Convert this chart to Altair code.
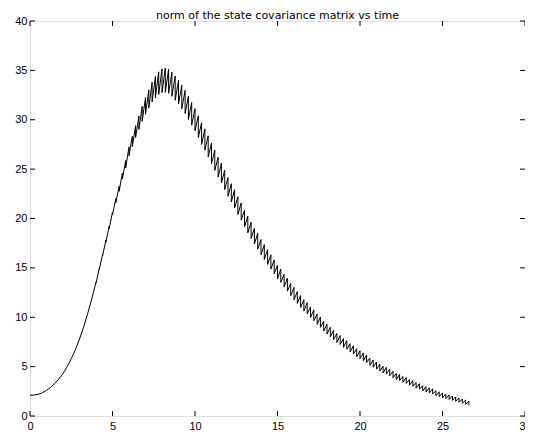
import altair as alt
import pandas as pd

title_text = "norm of the state covariance matrix vs time"
x_ticks = [0, 5, 10, 15, 20, 25, 30]
y_ticks = [0, 5, 10, 15, 20, 25, 30, 35, 40]

# smooth early part of the curve
early_t = [0, 0.25, 0.5, 0.75, 1.0, 1.25, 1.5, 1.75, 2.0, 2.25, 2.5, 2.75, 3.0, 3.25, 3.5, 3.75]
early_v = [2.1, 2.12, 2.2, 2.35, 2.6, 2.9, 3.3, 3.75, 4.3, 5.0, 5.8, 6.7, 7.8, 9.0, 10.4, 11.9]

# oscillating part: one update every 0.2 time units from t = 4.0 to 26.6
spike_start = 4.0
spike_step = 0.2
center = [
    13.5, 14.9, 16.3, 17.7, 19.1, 20.5,
    21.8, 23.0, 24.3, 25.5, 26.8,
    27.8, 28.8, 29.7, 30.6, 31.4,
    32.1, 32.8, 33.3, 33.7, 33.95,
    34.0, 33.9, 33.6, 33.2, 32.8,
    32.3, 31.8, 31.2, 30.6, 30.0,
    29.3, 28.6, 28.0, 27.3, 26.6,
    25.9, 25.2, 24.6, 23.9, 23.2,
    22.6, 22.0, 21.3, 20.7, 20.0,
    19.4, 18.8, 18.2, 17.7, 17.1,
    16.6, 16.1, 15.6, 15.1, 14.6,
    14.2, 13.7, 13.3, 12.8, 12.4,
    12.0, 11.6, 11.2, 10.9, 10.5,
    10.2, 9.8, 9.5, 9.1, 8.8,
    8.5, 8.2, 7.9, 7.7, 7.4,
    7.2, 6.9, 6.7, 6.4, 6.2,
    6.0, 5.8, 5.5, 5.3, 5.1,
    4.9, 4.7, 4.6, 4.4, 4.2,
    4.0, 3.9, 3.7, 3.6, 3.4,
    3.3, 3.1, 3.0, 2.8, 2.7,
    2.6, 2.5, 2.3, 2.2, 2.1,
    2.0, 1.9, 1.8, 1.7, 1.6,
    1.5, 1.4, 1.3,
]
swing = [
    0.1, 0.1, 0.15, 0.2, 0.25, 0.3,
    0.4, 0.5, 0.6, 0.75, 0.9,
    1.05, 1.2, 1.35, 1.5, 1.7,
    1.85, 2.0, 2.15, 2.3, 2.4,
    2.45, 2.45, 2.45, 2.45, 2.4,
    2.4, 2.35, 2.35, 2.3, 2.25,
    2.2, 2.2, 2.15, 2.15, 2.1,
    2.05, 2.0, 2.0, 1.95, 1.9,
    1.85, 1.85, 1.8, 1.75, 1.7,
    1.7, 1.65, 1.6, 1.6, 1.55,
    1.5, 1.5, 1.45, 1.4, 1.4,
    1.35, 1.3, 1.3, 1.25, 1.25,
    1.2, 1.2, 1.15, 1.15, 1.1,
    1.1, 1.05, 1.05, 1.0, 1.0,
    0.97, 0.95, 0.93, 0.91, 0.89,
    0.87, 0.85, 0.83, 0.81, 0.8,
    0.78, 0.76, 0.75, 0.73, 0.72,
    0.7, 0.69, 0.67, 0.66, 0.65,
    0.63, 0.62, 0.61, 0.6, 0.58,
    0.57, 0.56, 0.55, 0.54, 0.53,
    0.52, 0.51, 0.5, 0.49, 0.48,
    0.47, 0.46, 0.45, 0.45, 0.44,
    0.43, 0.43, 0.42,
]

rows = []
idx = 0
for t, v in zip(early_t, early_v):
    rows.append({"t": t, "v": v, "i": idx})
    idx += 1
for k, (c, s) in enumerate(zip(center, swing)):
    t = round(spike_start + spike_step * k, 4)
    rows.append({"t": t, "v": c + s / 2, "i": idx})
    idx += 1
    rows.append({"t": t, "v": c - s / 2, "i": idx})
    idx += 1
df = pd.DataFrame(rows)

W, H = 495, 395
TL = 5
font = "Liberation Sans"
xs = alt.Scale(domain=[0, 30], nice=False, zero=False)
ys = alt.Scale(domain=[0, 40], nice=False, zero=False)

line = alt.Chart(df).mark_line(color="black", strokeWidth=1).encode(
    x=alt.X("t:Q", scale=xs, title=None,
            axis=alt.Axis(values=x_ticks, ticks=False, domain=False, grid=False,
                          labelPadding=4, labelFontSize=11, labelFont=font,
                          labelColor="black", labelFlush=False, labelOverlap=False)),
    y=alt.Y("v:Q", scale=ys, title=None,
            axis=alt.Axis(values=y_ticks, ticks=False, domain=False, grid=False,
                          labelPadding=3, labelFontSize=11, labelFont=font,
                          labelColor="black", labelFlush=False, labelOverlap=False)),
    order="i:Q",
)

xdf = pd.DataFrame({"xt": x_ticks})
ydf = pd.DataFrame({"yt": y_ticks})

xb = alt.Chart(xdf).mark_rule(color="black", strokeWidth=1).encode(
    x=alt.X("xt:Q", scale=xs, title=None), y=alt.value(H), y2=alt.value(H - TL))
xt = alt.Chart(xdf).mark_rule(color="black", strokeWidth=1).encode(
    x=alt.X("xt:Q", scale=xs, title=None), y=alt.value(0), y2=alt.value(TL))
yl = alt.Chart(ydf).mark_rule(color="black", strokeWidth=1).encode(
    y=alt.Y("yt:Q", scale=ys, title=None), x=alt.value(0), x2=alt.value(TL))
yr = alt.Chart(ydf).mark_rule(color="black", strokeWidth=1).encode(
    y=alt.Y("yt:Q", scale=ys, title=None), x=alt.value(W - TL), x2=alt.value(W))

chart = alt.layer(line, xb, xt, yl, yr).properties(
    width=W, height=H,
    title=alt.TitleParams(title_text, fontSize=11, font="DejaVu Sans", fontWeight="normal",
                          color="black", offset=-6, anchor="middle"),
    autosize=alt.AutoSizeParams(type="none"),
    padding={"left": 22, "top": 13, "right": 0, "bottom": 16},
).configure_view(stroke="black", strokeWidth=1).configure(background="white")

chart.save("out.html", embed_options={"renderer": "svg", "actions": False})
